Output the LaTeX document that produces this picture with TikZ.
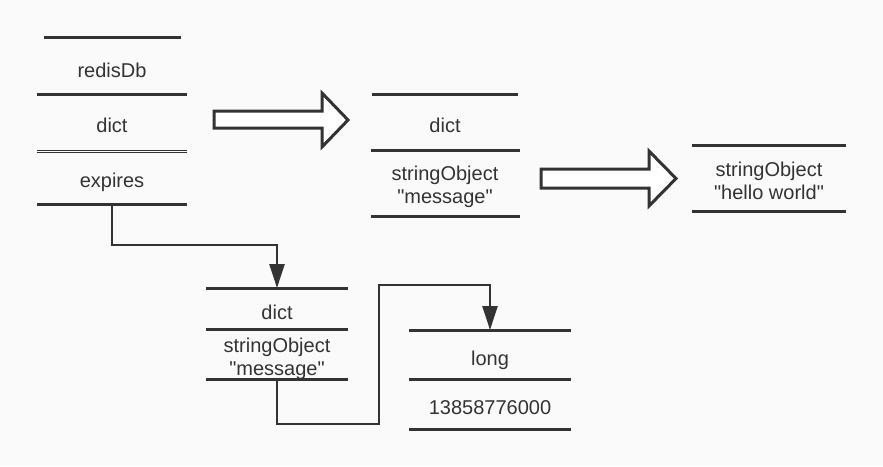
\documentclass[tikz,border=0pt]{standalone}
\usepackage{fontspec}
\setmainfont{Liberation Sans}
\usetikzlibrary{arrows.meta}

\definecolor{ink}{HTML}{333333}
\definecolor{paper}{HTML}{FAFAFA}

\tikzset{
  cell/.style={anchor=base, text=ink, font=\fontsize{20}{23}\selectfont, align=center, inner sep=0pt},
  divider/.style={draw=ink, line width=3pt},
  link/.style={draw=ink, line width=2.4pt, -{Triangle[length=24pt,width=15pt]}},
  fatarrow/.style={draw=ink, fill=white, line width=3pt, line join=miter}
}
\newcommand{\qt}[1]{\textquotedbl#1\textquotedbl}

\begin{document}
\begin{tikzpicture}[x=1pt,y=-1pt]
\fill[paper] (0,0) rectangle (883,466);
\useasboundingbox (0,0) rectangle (883,466);

% redisDb
\draw [divider] (44,37) -- (181,37);
\node [cell] (redisdb) at (112,77) {redisDb};
\draw [divider] (37,94) -- (187,94);
\node [cell] (dbdict) at (112,132) {dict};
\draw [draw=ink, line width=1.5pt, double=paper, double distance=0.8pt] (37,151.5) -- (187,151.5);
\node [cell] (dbexpires) at (112,187) {expires};
\draw [divider] (37,204) -- (187,204);
\coordinate (expbot) at (112,204);

% dict
\draw [divider] (372,94) -- (518,94);
\node [cell] (dict) at (445,132) {dict};
\draw [divider] (371,150) -- (520,150);
\node [cell] (dictkey) at (445,203) {stringObject\\\qt{message}};
\draw [divider] (371,216) -- (520,216);

% value
\draw [divider] (692,145) -- (846,145);
\node [cell] (dictval) at (769,199) {stringObject\\\qt{hello world}};
\draw [divider] (692,211) -- (846,211);

% expires dict
\draw [divider] (206,288) -- (348,288);
\coordinate (expdicttop) at (277,288);
\node [cell] (expdict) at (277,319) {dict};
\draw [divider] (206,329) -- (348,329);
\node [cell] (expkey) at (277,375) {stringObject\\\qt{message}};
\draw [divider] (206,379) -- (348,379);
\coordinate (expkeybot) at (277,379);

% long value
\draw [divider] (409,330) -- (571,330);
\coordinate (longtop) at (490,330);
\node [cell] (longtype) at (490,365) {long};
\draw [divider] (409,379) -- (571,379);
\node [cell] (longval) at (490,414) {13858776000};
\draw [divider] (409,429) -- (571,429);

% Big arrows
\draw [fatarrow] (214,111) -- (322,111) -- (322,93) -- (348,120) -- (322,147) -- (322,128) -- (214,128) -- cycle;
\draw [fatarrow] (541,169) -- (649,169) -- (649,151) -- (676,178.5) -- (649,206) -- (649,188) -- (541,188) -- cycle;

% Pointers
\draw [link] (expbot) -- ++(0,41) -| (expdicttop);
\draw [link] (expkeybot) -- ++(0,45) -| ++(102,-139) -| (longtop);

\end{tikzpicture}
\end{document}
